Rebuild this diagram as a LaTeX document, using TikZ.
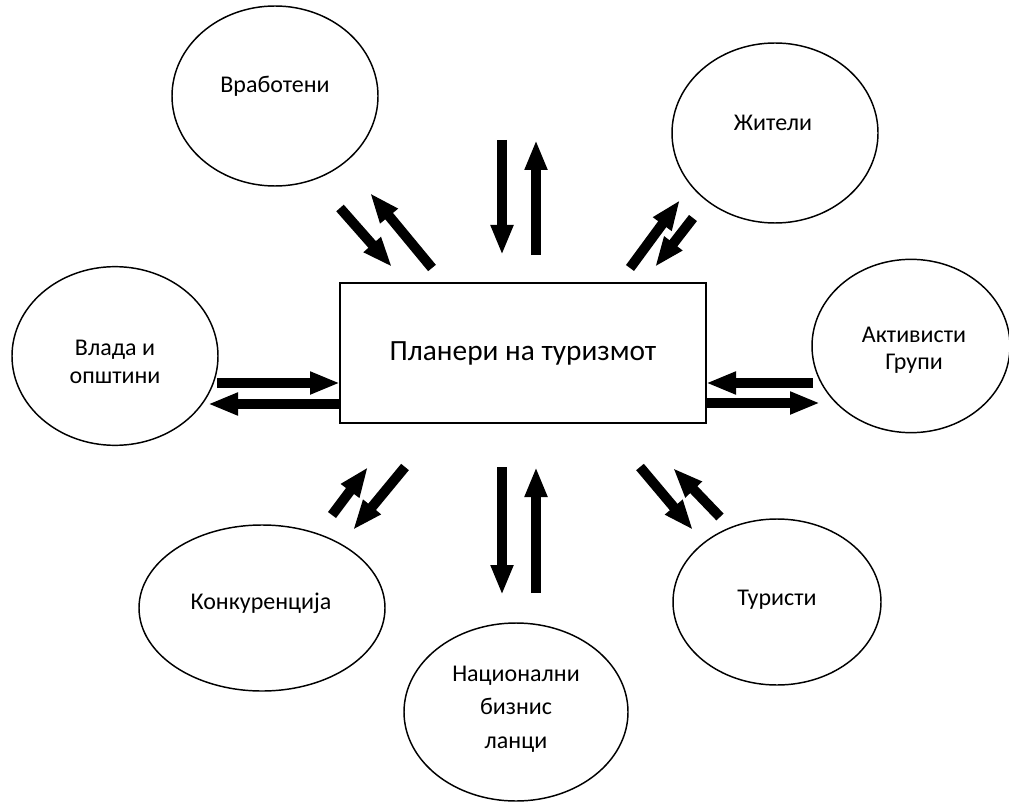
\documentclass[tikz,border=0pt]{standalone}
\usepackage{fontspec}
\setmainfont{Carlito}
\usetikzlibrary{arrows.meta,shapes.geometric}

\tikzset{
	bubble/.style={draw,ellipse,line width=1.1pt,inner sep=0pt},
	bubtext/.style={font=\fontsize{18}{20.5}\selectfont,align=center,inner sep=0pt},
	flow/.style={line width=7.5pt,-{Triangle[length=22.5pt,width=15.75pt]}},
}

\begin{document}
\begin{tikzpicture}[x=0.75pt,y=-0.75pt]

\useasboundingbox (0,0) rectangle (1009,802);

	% centre box
	\node[draw,line width=1.1pt,minimum width=274.5pt,minimum height=105pt,inner sep=0pt,
	      font=\fontsize{22}{26}\selectfont] (plan) at (523,353) {Планери на туризмот};

	% actors round it
	\node[bubble,minimum width=154.5pt,minimum height=135pt] (vrab) at (275,96) {};
	\node[bubtext] (vrab-t) at (275,86) {Вработени};
	\node[bubble,minimum width=154.5pt,minimum height=135pt] (zhit) at (775,133) {};
	\node[bubtext] (zhit-t) at (773,123) {Жители};
	\node[bubble,minimum width=154.5pt,minimum height=134pt] (vlada) at (115,356) {};
	\node[bubtext] (vlada-t) at (115,362) {Влада и\\општини};
	\node[bubble,minimum width=148.5pt,minimum height=130pt] (aktiv) at (911,346) {};
	\node[bubtext] (aktiv-t) at (914,350) {Активисти\\Групи};
	\node[bubble,minimum width=184.5pt,minimum height=124.5pt] (konk) at (262,608) {};
	\node[bubtext] (konk-t) at (261,603) {Конкуренција};
	\node[bubble,minimum width=168pt,minimum height=133.5pt] (nac) at (516,712) {};
	\node[bubtext,font=\fontsize{18}{25}\selectfont] (nac-t) at (516,709) {Национални\\бизнис\\ланци};
	\node[bubble,minimum width=156pt,minimum height=124.5pt] (tur) at (777,602) {};
	\node[bubtext] (tur-t) at (777,600) {Туристи};

	% arrow ends
	\coordinate (vrab-a) at (340,208);
	\coordinate (vrab-b) at (392,267);
	\coordinate (vrab-c) at (432,268);
	\coordinate (vrab-d) at (370,193);
	\coordinate (top-a) at (502,140);
	\coordinate (top-b) at (502,255);
	\coordinate (top-c) at (536,255);
	\coordinate (top-d) at (536,140);
	\coordinate (zhit-a) at (630,268);
	\coordinate (zhit-b) at (680,200);
	\coordinate (zhit-c) at (693,218);
	\coordinate (zhit-d) at (655,267);
	\coordinate (vlada-a) at (217,383);
	\coordinate (vlada-b) at (340,383);
	\coordinate (vlada-c) at (340,404);
	\coordinate (vlada-d) at (208,404);
	\coordinate (aktiv-a) at (813,383);
	\coordinate (aktiv-b) at (706,383);
	\coordinate (aktiv-c) at (706,403);
	\coordinate (aktiv-d) at (820,403);
	\coordinate (konk-a) at (332,515);
	\coordinate (konk-b) at (368,467);
	\coordinate (konk-c) at (405,467);
	\coordinate (konk-d) at (353,530);
	\coordinate (nac-a) at (502,467);
	\coordinate (nac-b) at (502,595);
	\coordinate (nac-c) at (536,593);
	\coordinate (nac-d) at (536,467);
	\coordinate (tur-a) at (640,467);
	\coordinate (tur-b) at (693,530);
	\coordinate (tur-c) at (720,517);
	\coordinate (tur-d) at (673,468);

	% flows
	\draw[flow] (vrab-a) -- (vrab-b);
	\draw[flow] (vrab-c) -- (vrab-d);
	\draw[flow] (top-a) -- (top-b);
	\draw[flow] (top-c) -- (top-d);
	\draw[flow] (zhit-a) -- (zhit-b);
	\draw[flow] (zhit-c) -- (zhit-d);
	\draw[flow] (vlada-a) -- (vlada-b);
	\draw[flow] (vlada-c) -- (vlada-d);
	\draw[flow] (aktiv-a) -- (aktiv-b);
	\draw[flow] (aktiv-c) -- (aktiv-d);
	\draw[flow] (konk-a) -- (konk-b);
	\draw[flow] (konk-c) -- (konk-d);
	\draw[flow] (nac-a) -- (nac-b);
	\draw[flow] (nac-c) -- (nac-d);
	\draw[flow] (tur-a) -- (tur-b);
	\draw[flow] (tur-c) -- (tur-d);

\end{tikzpicture}
\end{document}
